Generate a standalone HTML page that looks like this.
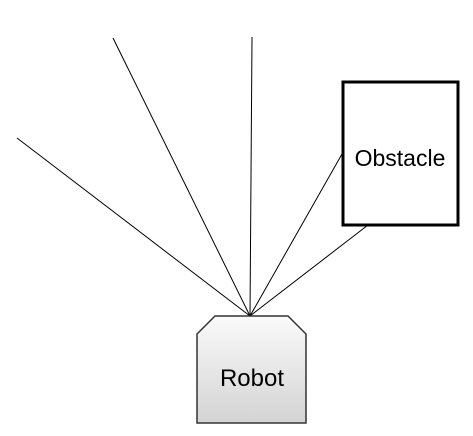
<!DOCTYPE html>
<html><head><style>body{margin:0;background:#fff}</style></head><body>
<svg width="473" height="431" xmlns="http://www.w3.org/2000/svg">
<defs><linearGradient id="g" x1="0" y1="0" x2="0" y2="1"><stop offset="0" stop-color="#fafafa"/><stop offset="1" stop-color="#d4d4d4"/></linearGradient></defs>
<g stroke="#000" stroke-width="1">
<line x1="250" y1="316" x2="17" y2="138"/>
<line x1="250" y1="316" x2="113" y2="38"/>
<line x1="250" y1="316" x2="252" y2="37"/>
<line x1="250" y1="316" x2="342" y2="154"/>
<line x1="250" y1="316" x2="368" y2="225"/>
</g>
<rect x="343" y="82" width="115" height="143" fill="#fff" stroke="#000" stroke-width="3"/>
<text x="400" y="166" font-family="Liberation Sans, sans-serif" font-size="23" text-anchor="middle">Obstacle</text>
<polygon points="215,316 288,316 306,334 306,423 197,423 197,334" fill="url(#g)" stroke="#333" stroke-width="1.5"/>
<text x="252" y="386" font-family="Liberation Sans, sans-serif" font-size="24" text-anchor="middle">Robot</text>
</svg>
</body></html>
